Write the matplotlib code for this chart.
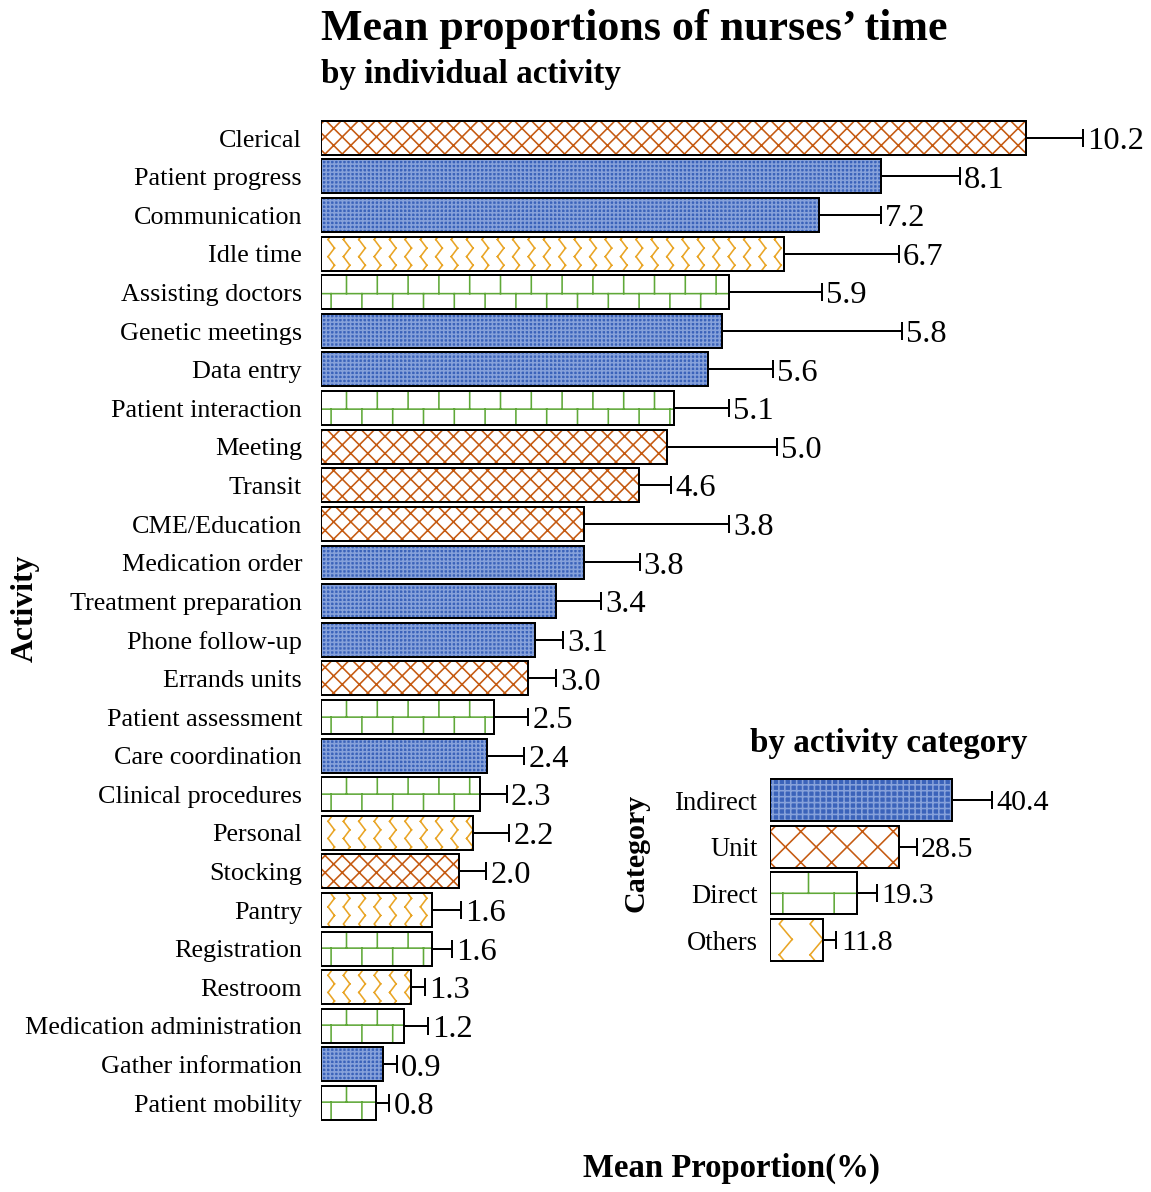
import numpy as np
import matplotlib
matplotlib.use("Agg")
import matplotlib.pyplot as plt
import matplotlib.hatch as mhatch
from matplotlib.path import Path

# ---- data ----
activities = ["Clerical", "Patient progress", "Communication", "Idle time",
              "Assisting doctors", "Genetic meetings", "Data entry",
              "Patient interaction", "Meeting", "Transit", "CME/Education",
              "Medication order", "Treatment preparation", "Phone follow-up",
              "Errands units", "Patient assessment", "Care coordination",
              "Clinical procedures", "Personal", "Stocking", "Pantry",
              "Registration", "Restroom", "Medication administration",
              "Gather information", "Patient mobility"]
means = [10.2, 8.1, 7.2, 6.7, 5.9, 5.8, 5.6, 5.1, 5.0, 4.6, 3.8, 3.8, 3.4,
         3.1, 3.0, 2.5, 2.4, 2.3, 2.2, 2.0, 1.6, 1.6, 1.3, 1.2, 0.9, 0.8]
errs = [0.82, 1.14, 0.9, 1.66, 1.35, 2.6, 0.94, 0.8, 1.6, 0.46, 2.1, 0.81,
        0.65, 0.4, 0.4, 0.5, 0.54, 0.39, 0.52, 0.39, 0.43, 0.3, 0.2, 0.35,
        0.2, 0.19]
groups = ["Unit", "Indirect", "Indirect", "Others", "Direct", "Indirect",
          "Indirect", "Direct", "Unit", "Unit", "Unit", "Indirect", "Indirect",
          "Indirect", "Unit", "Direct", "Indirect", "Direct", "Others", "Unit",
          "Others", "Direct", "Others", "Direct", "Indirect", "Direct"]

categories = ["Indirect", "Unit", "Direct", "Others"]
cat_means = [40.4, 28.5, 19.3, 11.8]
cat_errs = [8.9, 4.0, 4.4, 2.9]

DPI = 154
W, H = 1151, 1192


def pt(px):
    return px * 72.0 / DPI


# ---- custom hatch patterns (zigzag, bricks, fine grid, diamonds) ----
# every piece is a 2-point segment, agg fills hatch paths too
class Pattern(mhatch.HatchPatternBase):
    key = None

    def __init__(self, hatch, density):
        self.segs = self.lines() if (hatch and self.key in hatch) else []
        self.num_vertices = 2 * len(self.segs)

    def set_vertices_and_codes(self, verts, codes):
        for i, (a, b) in enumerate(self.segs):
            verts[2 * i] = a
            verts[2 * i + 1] = b
            codes[2 * i] = Path.MOVETO
            codes[2 * i + 1] = Path.LINETO


def grid(key, n):
    class G(Pattern):
        def lines(self):
            t = (np.arange(n) + 0.5) / n
            return ([((0, v), (1, v)) for v in t] +
                    [((v, 0), (v, 1)) for v in t])
    G.key = key
    return G


def diamonds(key, n):
    class D(Pattern):
        def lines(self):
            ne = [((0, k / n), (1, k / n + 1)) for k in range(-n, n + 1)]
            se = [((0, k / n), (1, k / n - 1)) for k in range(0, 2 * n + 1)]
            return ne + se
    D.key = key
    return D


def zigzag(key, cols, periods, amp):
    class Z(Pattern):
        def lines(self):
            out = []
            for c in range(cols):
                x0 = (c + 0.3) / cols
                pts = [(x0 + (amp / cols if j % 2 else 0), j / (2 * periods))
                       for j in range(2 * periods + 1)]
                out += list(zip(pts[:-1], pts[1:]))
            return out
    Z.key = key
    return Z


def bricks(key, cols, rows):
    class B(Pattern):
        phase = 0.0

        def lines(self):
            out = []
            for r in range(rows):
                y0 = ((r + self.phase) / rows) % 1.0
                out.append(((0, y0), (1, y0)))
                for c in range(cols):
                    x = (c + 0.5 * (r % 2) + 0.25) / cols
                    for s in (0.0, -1.0):
                        out.append(((x, y0 + s), (x, y0 + 1.0 / rows + s)))
            return out
    B.key = key
    return B


BrickSmall = bricks("-", 5, 8)
BrickBig = bricks(".", 3, 6)
mhatch._hatch_types[:] = [grid("+", 38), grid("|", 26), diamonds("x", 9),
                          diamonds("X", 5), zigzag("o", 10, 9, 0.42),
                          zigzag("O", 5, 5, 0.42), BrickSmall, BrickBig]

plt.rcParams["font.family"] = ["Liberation Serif", "DejaVu Serif"]
plt.rcParams["hatch.linewidth"] = pt(1.6)

face = {"Indirect": "#3B63BA", "Unit": "white", "Direct": "white", "Others": "white"}
hcol = {"Indirect": "#86A1DA", "Unit": "#C55A11", "Direct": "#5FA838", "Others": "#E9A526"}
hatch_main = {"Indirect": "+", "Unit": "x", "Direct": "-", "Others": "o"}
hatch_cat = {"Indirect": "|", "Unit": "X", "Direct": ".", "Others": "O"}

fig = plt.figure(figsize=((W + 0.2) / DPI, (H + 0.2) / DPI), dpi=DPI)

LW = pt(2.0)
CAP = pt(9)

# ---- main panel ----
ax = fig.add_axes([321 / W, (H - 1122.3) / H, 818 / W, 1003.6 / H])
ax.patch.set_alpha(0)
y = np.arange(len(activities))
m = np.array(means)
e = np.array(errs)
g = np.array(groups)
for cat in categories:
    sel = g == cat
    ax.barh(y[sel], m[sel], height=0.88, color=face[cat], edgecolor=hcol[cat],
            linewidth=0, hatch=hatch_main[cat])
ax.barh(y, m, height=0.88, fill=False, edgecolor="black", linewidth=LW)
ax.errorbar(m, y, xerr=[np.zeros_like(e), e], fmt="none", ecolor="black",
            elinewidth=LW, capsize=CAP, capthick=LW)
for yi, mi, ei in zip(y, m, e):
    ax.text(mi + ei + 0.06, yi, f"{mi:.1f}", va="center_baseline", ha="left",
            fontsize=pt(32.5))
ax.set_xlim(0, 818 / 69.1)
ax.set_ylim(len(activities) - 0.5, -0.5)
ax.set_yticks(y, activities, fontsize=pt(26.2))
ax.set_xticks([])
ax.tick_params(axis="y", length=0, pad=pt(19))
for s in ax.spines.values():
    s.set_visible(False)

# ---- category panel ----
ax2 = fig.add_axes([770 / W, (H - 963.3) / H, 300 / W, 186.6 / H])
ax2.patch.set_alpha(0)
yc = np.arange(len(categories))
for i, cat in enumerate(categories):
    ax2.barh(yc[i], cat_means[i], height=0.9, color=face[cat], edgecolor=hcol[cat],
             linewidth=0, hatch=hatch_cat[cat])
ax2.barh(yc, cat_means, height=0.9, fill=False, edgecolor="black", linewidth=LW)
ax2.errorbar(cat_means, yc, xerr=[np.zeros(len(cat_errs)), cat_errs], fmt="none",
             ecolor="black", elinewidth=LW, capsize=CAP, capthick=LW)
for yi, mi, ei in zip(yc, cat_means, cat_errs):
    ax2.text(mi + ei + 1.0, yi, f"{mi:.1f}", va="center_baseline", ha="left",
             fontsize=pt(30))
ax2.set_xlim(0, 300 / 4.505)
ax2.set_ylim(len(categories) - 0.5, -0.5)
ax2.set_yticks(yc, categories, fontsize=pt(26.7))
ax2.set_xticks([])
ax2.tick_params(axis="y", length=0, pad=pt(12))
for s in ax2.spines.values():
    s.set_visible(False)


# align brick rows so a mortar line runs through the middle of each bar
def brick_phase(axis, yval, rows):
    d = axis.transData.transform((0, yval))[1]
    period = DPI / rows
    return ((-(H - d)) / period) % 1.0


BrickSmall.phase = brick_phase(ax, activities.index("Clinical procedures"), 8)
BrickBig.phase = brick_phase(ax2, categories.index("Direct"), 6)

# ---- titles and axis labels ----
fig.text(321 / W, 1 - 40 / H, "Mean proportions of nurses\u2019 time", ha="left",
         va="baseline", fontsize=pt(44), fontweight="bold")
fig.text(321 / W, 1 - 83 / H, "by individual activity", ha="left",
         va="baseline", fontsize=pt(33), fontweight="bold")
fig.text(889 / W, 1 - 752 / H, "by activity category", ha="center",
         va="baseline", fontsize=pt(33), fontweight="bold")
fig.text(25 / W, 1 - 608 / H, "Activity", rotation=90, ha="center", va="center",
         fontsize=pt(31.6), fontweight="bold")
fig.text(636 / W, 1 - 853 / H, "Category", rotation=90, ha="center", va="center",
         fontsize=pt(30), fontweight="bold")
fig.text(731 / W, 1 - 1177 / H, "Mean Proportion(%)", ha="center", va="baseline",
         fontsize=pt(32.8), fontweight="bold")

fig.savefig("out.png", dpi=DPI)
